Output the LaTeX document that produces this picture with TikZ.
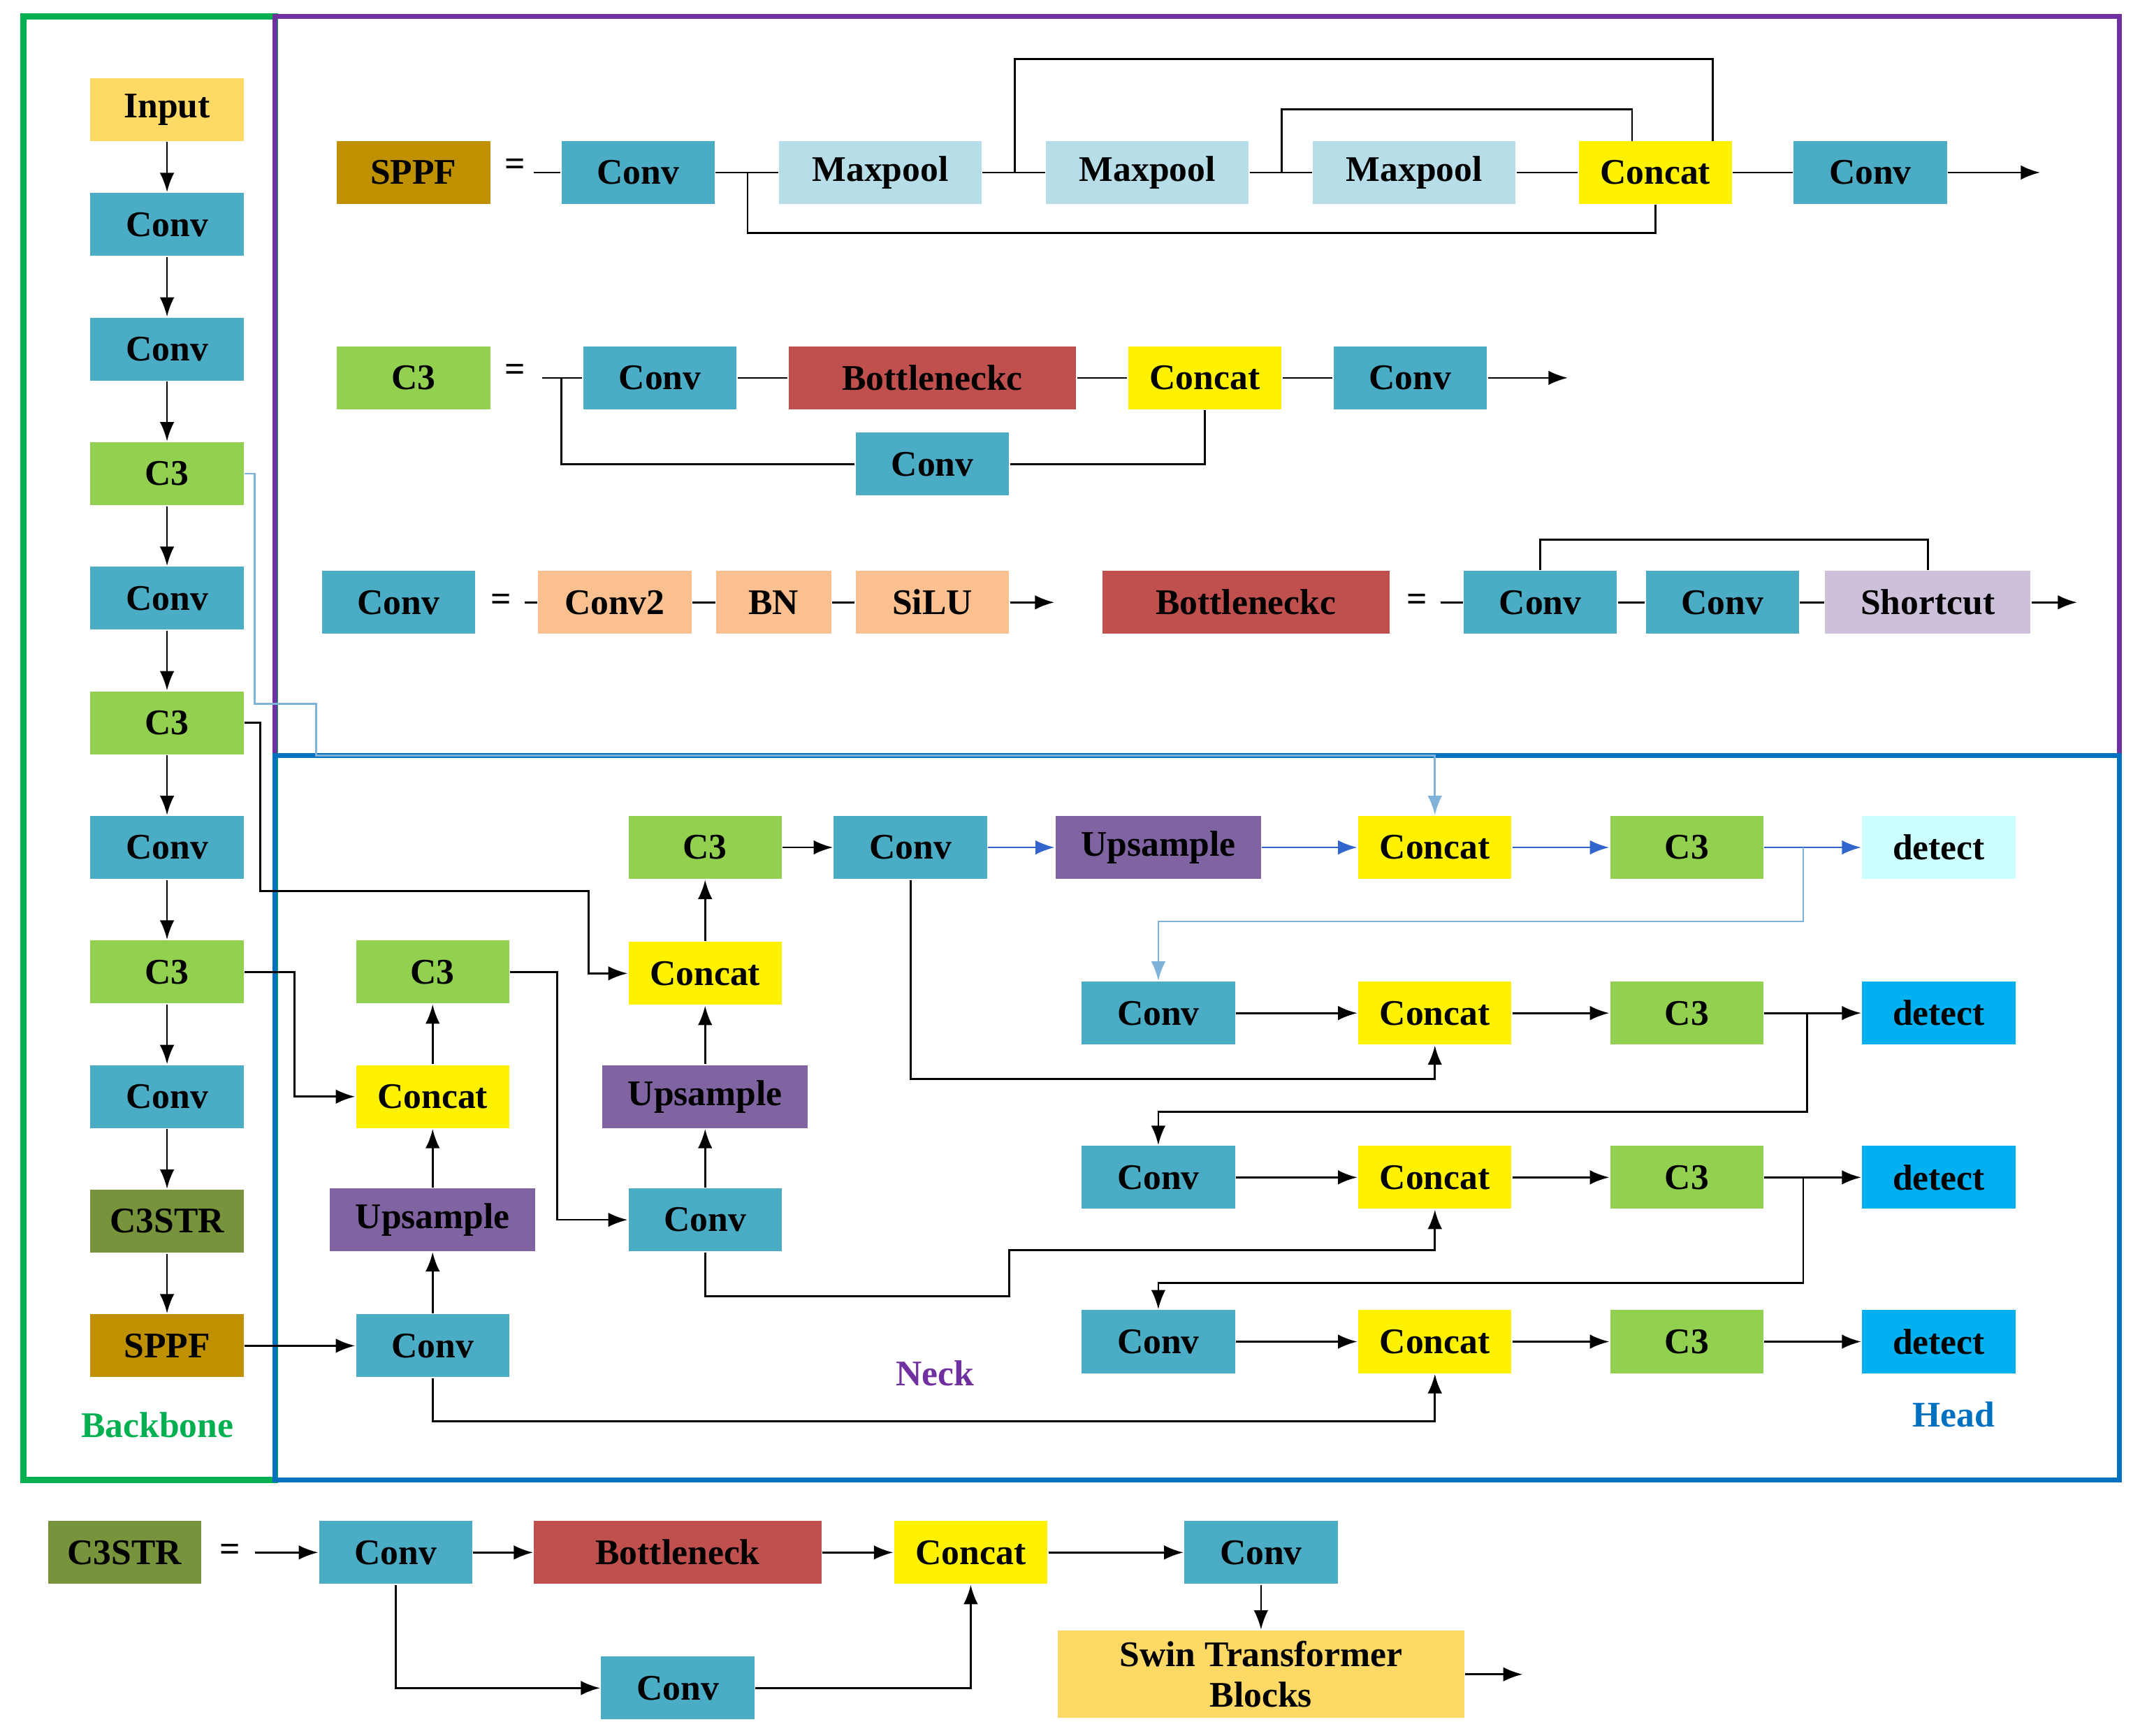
\documentclass[tikz,border=0pt]{standalone}
\usepackage{fontspec}
\setmainfont{Liberation Serif}
\usetikzlibrary{arrows.meta}
\definecolor{cconv}{RGB}{75,172,198}
\definecolor{cthree}{RGB}{146,208,80}
\definecolor{cups}{RGB}{128,100,162}
\definecolor{cmax}{RGB}{183,222,232}
\definecolor{csppf}{RGB}{191,144,0}
\definecolor{cstr}{RGB}{119,147,60}
\definecolor{cin}{RGB}{255,217,102}
\definecolor{cbot}{RGB}{192,80,77}
\definecolor{cpeach}{RGB}{250,192,144}
\definecolor{cshort}{RGB}{204,192,218}
\definecolor{cdet}{RGB}{0,176,240}
\definecolor{cdetl}{RGB}{204,255,255}
\definecolor{cgreen}{RGB}{0,176,80}
\definecolor{cpurple}{RGB}{112,48,160}
\definecolor{cblue}{RGB}{0,112,192}
\definecolor{carr}{RGB}{51,102,204}
\definecolor{clight}{RGB}{127,178,217}
\tikzset{
  blk/.style={minimum width=2.24cm,minimum height=0.92cm,inner sep=0pt,
    font=\fontsize{15}{17}\selectfont\bfseries},
  conv/.style={blk,fill=cconv},
  cthr/.style={blk,fill=cthree},
  cat/.style={blk,fill=yellow},
  ups/.style={blk,fill=cups,minimum width=3cm},
  arr/.style={-{Latex[length=8pt,width=6pt]}},
  lbl/.style={font=\fontsize{15}{17}\selectfont\bfseries}
}
\begin{document}
\begin{tikzpicture}[x=0.02cm,y=-0.02cm,line width=0.8pt]
\useasboundingbox (0,0) rectangle (1563,1268);
% frames
\draw[cgreen,line width=2.5pt] (17,12) rectangle (201,1081);
\draw[cpurple,line width=2pt] (201,12) rectangle (1548,552);
\draw[cblue,line width=2pt] (201,552) rectangle (1548,1081);
\node[lbl,text=cgreen] (lbb) at (115,1041) {Backbone};
\node[lbl,text=cpurple] (lneck) at (683,1003) {Neck};
\node[lbl,text=cblue] (lhead) at (1427,1033) {Head};

% backbone
\node[blk,fill=cin] (b0) at (122,80) {Input};
\node[conv] (b1) at (122,164) {Conv};
\node[conv] (b2) at (122,255) {Conv};
\node[cthr] (b3) at (122,346) {C3};
\node[conv] (b4) at (122,437) {Conv};
\node[cthr] (b5) at (122,528) {C3};
\node[conv] (b6) at (122,619) {Conv};
\node[cthr] (b7) at (122,710) {C3};
\node[conv] (b8) at (122,801) {Conv};
\node[blk,fill=cstr] (b9) at (122,892) {C3STR};
\node[blk,fill=csppf] (b10) at (122,983) {SPPF};
\foreach \a [evaluate=\a as \b using int(\a+1)] in {0,...,9} {\draw[arr] (b\a) -- (b\b);}

% SPPF
\node[blk,fill=csppf] (s0) at (302,126) {SPPF};
\node[lbl] (s1) at (376,122) {=};
\node[conv] (s2) at (466,126) {Conv};
\node[blk,fill=cmax,minimum width=2.96cm] (s3) at (643,126) {Maxpool};
\node[blk,fill=cmax,minimum width=2.96cm] (s4) at (838,126) {Maxpool};
\node[blk,fill=cmax,minimum width=2.96cm] (s5) at (1033,126) {Maxpool};
\node[cat] (s6) at (1209,126) {Concat};
\node[conv] (s7) at (1366,126) {Conv};
\coordinate (s8) at (1490,126);
\draw (390,126) -- (s2) -- (s3) -- (s4) -- (s5) -- (s6) -- (s7);
\draw[arr] (s7) -- (s8);
\draw (546,126) |- (1209,170) -- (s6.south);
\draw (741,126) |- (1251,43) -- (1251,103);
\draw (936,126) |- (1192,80) -- (1192,103);

% C3
\node[cthr] (c0) at (302,276) {C3};
\node[lbl] (c1) at (376,272) {=};
\node[conv] (c2) at (482,276) {Conv};
\node[blk,fill=cbot,minimum width=4.2cm] (c3) at (681,276) {Bottleneckc};
\node[cat] (c4) at (880,276) {Concat};
\node[conv] (c5) at (1030,276) {Conv};
\node[conv] (c6) at (681,339) {Conv};
\coordinate (c7) at (1145,276);
\draw (396,276) -- (c2) -- (c3) -- (c4) -- (c5);
\draw[arr] (c5) -- (c7);
\draw (410,276) |- (c6);
\draw (c6) -| (c4);

% Conv / Bottleneckc
\node[conv] (v0) at (291,440) {Conv};
\node[lbl] (v1) at (366,440) {=};
\node[blk,fill=cpeach] (v2) at (449,440) {Conv2};
\node[blk,fill=cpeach,minimum width=1.68cm] (v3) at (565,440) {BN};
\node[blk,fill=cpeach] (v4) at (681,440) {SiLU};
\coordinate (v5) at (770,440);
\draw (383,440) -- (v2) -- (v3) -- (v4);
\draw[arr] (v4) -- (v5);
\node[blk,fill=cbot,minimum width=4.2cm] (k0) at (910,440) {Bottleneckc};
\node[lbl] (k1) at (1035,440) {=};
\node[conv] (k2) at (1125,440) {Conv};
\node[conv] (k3) at (1258,440) {Conv};
\node[blk,fill=cshort,minimum width=3cm] (k4) at (1408,440) {Shortcut};
\coordinate (k5) at (1517,440);
\draw (1052,440) -- (k2) -- (k3) -- (k4);
\draw[arr] (k4) -- (k5);
\draw (k2.north) |- (1408,394) -- (k4.north);

% neck
\node[conv] (n1) at (316,983) {Conv};
\node[ups] (n2) at (316,891) {Upsample};
\node[cat] (n3) at (316,801) {Concat};
\node[cthr] (n4) at (316,710) {C3};
\node[conv] (n5) at (515,891) {Conv};
\node[ups] (n6) at (515,801) {Upsample};
\node[cat] (n7) at (515,711) {Concat};
\node[cthr] (n8) at (515,619) {C3};
\node[conv] (n9) at (665,619) {Conv};
\node[ups] (n10) at (846,619) {Upsample};
\foreach \a/\b in {1/2,2/3,3/4,5/6,6/7,7/8,8/9} {\draw[arr] (n\a) -- (n\b);}
\draw[arr] (b10) -- (n1);
\draw[arr] (b7.east) -- (215,710) |- (n3);
\draw[arr] (b5.east) -- (190,528) |- (430,651) |- (n7);
\draw[arr] (n4.east) -- (407,710) |- (n5);

% head
\node[cat] (h1) at (1048,619) {Concat};
\node[cthr] (h2) at (1232,619) {C3};
\node[blk,fill=cdetl] (h3) at (1416,619) {detect};
\draw[arr,carr] (n9) -- (n10);
\draw[arr,carr] (n10) -- (h1);
\draw[arr,carr] (h1) -- (h2);
\draw[arr,carr] (h2) -- (h3);
\draw[arr,clight] (b3.east) -- (186,346) |- (231,514) |- (1048,552) -- (h1);
\foreach \r/\y in {2/740,3/860,4/980} {
  \node[conv] (g\r) at (846,\y) {Conv};
  \node[cat] (t\r) at (1048,\y) {Concat};
  \node[cthr] (u\r) at (1232,\y) {C3};
  \node[blk,fill=cdet] (d\r) at (1416,\y) {detect};
  \draw[arr] (g\r) -- (t\r);
  \draw[arr] (t\r) -- (u\r);
  \draw[arr] (u\r) -- (d\r);
}
\draw[arr,clight] (1317,619) |- (846,673) -- (g2);
\draw[arr] (1320,740) |- (846,812) -- (g3);
\draw[arr] (1317,860) |- (846,937) -- (g4);
\draw[arr] (n9) |- (1048,788) -- (t2);
\draw[arr] (n5) |- (737,947) |- (1048,913) -- (t3);
\draw[arr] (n1) |- (1048,1038) -- (t4);

% C3STR
\node[blk,fill=cstr] (x0) at (91,1134) {C3STR};
\node[lbl] (x1) at (168,1134) {=};
\node[conv] (x2) at (289,1134) {Conv};
\node[blk,fill=cbot,minimum width=4.2cm] (x3) at (495,1134) {Bottleneck};
\node[cat] (x4) at (709,1134) {Concat};
\node[conv] (x5) at (921,1134) {Conv};
\node[blk,fill=cin,minimum width=5.94cm,minimum height=1.28cm,align=center,
  font=\fontsize{15}{17}\selectfont\bfseries] (x6) at (921,1223) {Swin Transformer\\Blocks};
\node[conv] (x7) at (495,1233) {Conv};
\coordinate (x8) at (1112,1223);
\draw[arr] (186,1134) -- (x2);
\draw[arr] (x2) -- (x3);
\draw[arr] (x3) -- (x4);
\draw[arr] (x4) -- (x5);
\draw[arr] (x5) -- (x6);
\draw[arr] (x6) -- (x8);
\draw[arr] (x2) |- (x7);
\draw[arr] (x7) -| (x4);
\end{tikzpicture}
\end{document}
